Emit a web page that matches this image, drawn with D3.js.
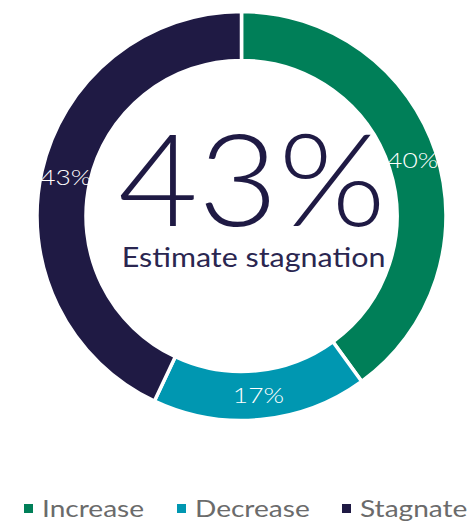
<!DOCTYPE html>
<html>
<head>
<meta charset="utf-8">
<script src="https://cdn.jsdelivr.net/npm/d3@7"></script>
<style>
  html, body { margin: 0; padding: 0; background: #fff; }
  svg { display: block; }
  text { font-family: "Lato", "Noto Sans", sans-serif; }
</style>
</head>
<body>
<svg id="chart" width="475" height="524"></svg>
<script>
// Outlook categories and their shares (%)
const categories = ["Increase", "Decrease", "Stagnate"];
const shares = [40, 17, 43];
const colors = ["#007f58", "#0097b1", "#1f1a44"];
const headline = "43%";
const subtitle = "Estimate stagnation";

const svg = d3.select("#chart");
const cx = 241.5, cy = 216;
const outerR = 204.5, innerR = 155.5;

// Stretch text horizontally to give the wide geometric look of the brand face
function widen(sel, factor) {
  sel.each(function () {
    const w = this.getComputedTextLength();
    d3.select(this)
      .attr("textLength", w * factor)
      .attr("lengthAdjust", "spacingAndGlyphs");
  });
}

const data = categories.map((c, i) => ({ name: c, value: shares[i], color: colors[i] }));

const pie = d3.pie().value(d => d.value).sort(null);
const arc = d3.arc().innerRadius(innerR).outerRadius(outerR);

const g = svg.append("g").attr("transform", `translate(${cx},${cy})`);

const arcs = pie(data);

g.selectAll("path.slice")
  .data(arcs)
  .join("path")
  .attr("class", "slice")
  .attr("d", arc)
  .attr("fill", d => d.data.color)
  .attr("stroke", "#fff")
  .attr("stroke-width", 3.5);

g.selectAll("text.pct")
  .data(arcs)
  .join("text")
  .attr("class", "pct")
  .attr("transform", d => `translate(${arc.centroid(d)})`)
  .attr("text-anchor", "middle")
  .attr("dy", "0.36em")
  .attr("fill", "#fff")
  .attr("font-size", 22)
  .attr("font-weight", 300)
  .text(d => d.data.value + "%")
  .call(widen, 1.2);

// Centre headline
g.append("text")
  .attr("text-anchor", "middle")
  .attr("x", 10.5)
  .attr("y", 10)
  .attr("fill", "#1f1a44")
  .attr("font-size", 128)
  .attr("font-weight", 300)
  .text(headline)
  .call(widen, 1.08);

g.append("text")
  .attr("text-anchor", "middle")
  .attr("x", 12)
  .attr("y", 51)
  .attr("fill", "#2a2650")
  .attr("font-size", 26)
  .attr("font-weight", 400)
  .text(subtitle)
  .call(widen, 1.17);

// Legend
const legendX = [24, 177, 342];
const legend = svg.append("g").attr("transform", "translate(0,517)");
const items = legend.selectAll("g.item")
  .data(data)
  .join("g")
  .attr("class", "item")
  .attr("transform", (d, i) => `translate(${legendX[i]},0)`);

items.append("rect")
  .attr("x", 0)
  .attr("y", -13)
  .attr("width", 9)
  .attr("height", 9)
  .attr("fill", d => d.color);

items.append("text")
  .attr("x", 18)
  .attr("y", 0)
  .attr("fill", "#6b6b6b")
  .attr("font-size", 23)
  .text(d => d.name)
  .call(widen, 1.22);
</script>
</body>
</html>
